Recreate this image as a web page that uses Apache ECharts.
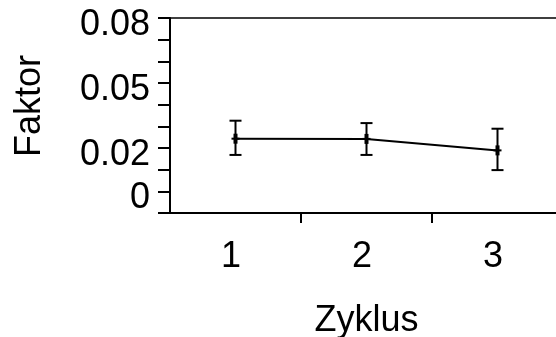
<!DOCTYPE html>
<html>
<head>
<meta charset="utf-8">
<script src="https://cdn.jsdelivr.net/npm/echarts@6/dist/echarts.min.js"></script>
<style>html,body{margin:0;padding:0;background:#fff}#c{width:556px;height:337px}</style>
</head>
<body>
<div id="c"></div>
<script>
var categories = ['1', '2', '3'];
var means = [0.0243, 0.0242, 0.0189];
var upper = [0.0326, 0.0315, 0.0289];
var lower = [0.0168, 0.0168, 0.0098];
var yTickValues = [0.08, 0.05, 0.02, 0];
var yTickLabels = ['0.08', '0.05', '0.02', '0'];
var xName = 'Zyklus';
var yName = 'Faktor';

var FONT = 'Liberation Sans, Arial, sans-serif';
var FS = 36;
var chart = echarts.init(document.getElementById('c'), null, {renderer: 'canvas'});
var xPos = categories.map(function (c, i) { return i + 1; });
var lineData = means.map(function (v, i) { return [xPos[i], v]; });
var errData = means.map(function (v, i) { return [xPos[i], lower[i], upper[i], v]; });

chart.setOption({
  animation: false,
  grid: {left: 170, top: 18, width: 393, height: 195, containLabel: false, outerBoundsMode: 'none',
    show: true, borderColor: '#000', borderWidth: 1.5, backgroundColor: 'transparent'},
  xAxis: {
    type: 'value', min: 0.5, max: 3.5,
    name: xName, nameLocation: 'middle', nameGap: 90,
    nameTextStyle: {fontFamily: FONT, fontSize: FS, color: '#000'},
    axisLine: {show: true, onZero: false, lineStyle: {color: '#000', width: 2}},
    axisTick: {show: true, length: 10, customValues: [1.5, 2.5], lineStyle: {color: '#000', width: 2}},
    axisLabel: {customValues: xPos, formatter: function (v) { return categories[Math.round(v) - 1] || ''; }, margin: 26, padding: [0, 9, 0, 0], fontFamily: FONT, fontSize: FS, color: '#000'},
    splitLine: {show: false}
  },
  yAxis: {
    type: 'value', min: -0.01, max: 0.08, interval: 0.01,
    axisLine: {show: true, onZero: false, lineStyle: {color: '#000', width: 2}},
    axisTick: {show: true, length: 12, lineStyle: {color: '#000', width: 2}},
    axisLabel: {
      margin: 20, verticalAlign: 'top', lineHeight: 14, fontFamily: FONT, fontSize: FS, color: '#000',
      showMinLabel: true, showMaxLabel: true, hideOverlap: false,
      formatter: function (v) {
        for (var i = 0; i < yTickValues.length; i++) {
          if (Math.abs(v - yTickValues[i]) < 1e-9) return yTickLabels[i];
        }
        return '';
      }
    },
    splitLine: {show: false}
  },
  graphic: [{
    type: 'text', rotation: Math.PI / 2, x: 30.5, y: 106,
    style: {text: yName, font: FS + 'px ' + FONT, fill: '#000', textAlign: 'center', textVerticalAlign: 'middle'}
  }],
  series: [{
    type: 'line', data: lineData, symbol: 'none',
    lineStyle: {color: '#000', width: 2}
  }, {
    type: 'custom', data: errData,
    renderItem: function (params, api) {
      var x = api.value(0);
      var lo = api.coord([x, api.value(1)]);
      var hi = api.coord([x, api.value(2)]);
      var m = api.coord([x, api.value(3)]);
      var hw = 6;
      var st = {stroke: '#000', lineWidth: 2};
      return {type: 'group', children: [
        {type: 'line', shape: {x1: hi[0], y1: hi[1], x2: lo[0], y2: lo[1]}, style: st},
        {type: 'line', shape: {x1: hi[0] - hw, y1: hi[1], x2: hi[0] + hw, y2: hi[1]}, style: st},
        {type: 'line', shape: {x1: lo[0] - hw, y1: lo[1], x2: lo[0] + hw, y2: lo[1]}, style: st},
        {type: 'line', shape: {x1: m[0], y1: m[1] - 5, x2: m[0], y2: m[1] + 5}, style: {stroke: '#000', lineWidth: 4}},
        {type: 'line', shape: {x1: m[0] - 4, y1: m[1], x2: m[0] + 4, y2: m[1]}, style: st}
      ]};
    }
  }]
});
</script>
</body>
</html>
